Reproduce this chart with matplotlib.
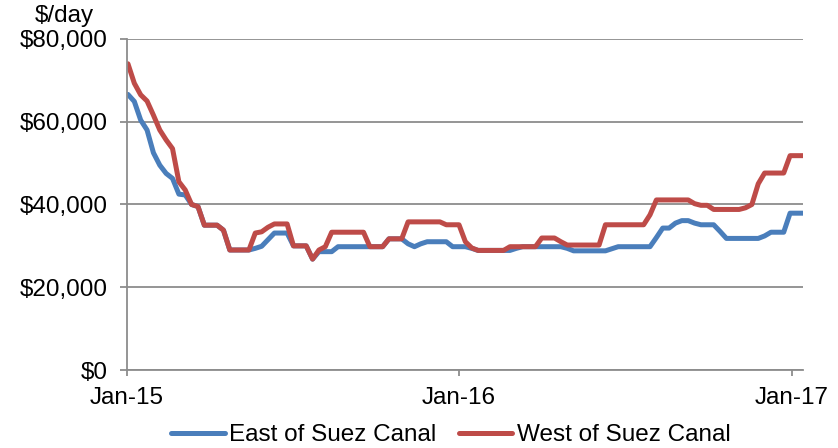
import matplotlib
matplotlib.use('Agg')
import matplotlib.pyplot as plt
import matplotlib.dates as mdates
import matplotlib.ticker as mticker
import pandas as pd

plt.rcParams['font.family'] = ['Liberation Sans', 'DejaVu Sans']

# weekly tanker earnings, $/day
weeks = pd.date_range('2015-01-02', periods=107, freq='7D')

east_suez = [
    66600, 64900, 60400, 58000, 52500, 49500, 47500, 46300, 42500, 42300,
    40000, 39500, 35000, 35000, 35000, 33800, 29000, 29000, 29000, 29000,
    29400, 29900, 31500, 33100, 33100, 33100, 30000, 30000, 30000, 26800,
    28600, 28600, 28600, 29800, 29800, 29800, 29800, 29800, 29800, 29800,
    29800, 31700, 31700, 31700, 30500, 29800, 30500, 31000, 31000, 31000,
    31000, 29800, 29800, 29800, 29400, 28900, 28900, 28900, 28900, 28900,
    28900, 29400, 29800, 29800, 29800, 29800, 29800, 29800, 29800, 29400,
    28800, 28800, 28800, 28800, 28800, 28800, 29300, 29800, 29800, 29800,
    29800, 29800, 29800, 32000, 34300, 34300, 35500, 36100, 36100, 35500,
    35100, 35100, 35100, 33500, 31800, 31800, 31800, 31800, 31800, 31800,
    32400, 33300, 33300, 33300, 37900, 37900, 37900,
]

west_suez = [
    74000, 69300, 66500, 65000, 61600, 58000, 55600, 53500, 45500, 43500,
    40000, 39500, 35000, 35000, 35000, 33800, 29000, 29000, 29000, 29000,
    33100, 33400, 34500, 35300, 35300, 35300, 30000, 30000, 30000, 26800,
    29000, 29800, 33300, 33300, 33300, 33300, 33300, 33300, 29800, 29800,
    29800, 31700, 31700, 31700, 35800, 35800, 35800, 35800, 35800, 35800,
    35100, 35100, 35100, 31000, 29500, 28900, 28900, 28900, 28900, 28900,
    29800, 29800, 29800, 29800, 29800, 31900, 31900, 31900, 31000, 30200,
    30200, 30200, 30200, 30200, 30200, 35100, 35100, 35100, 35100, 35100,
    35100, 35100, 37500, 41100, 41100, 41100, 41100, 41100, 41100, 40200,
    39800, 39800, 38800, 38800, 38800, 38800, 38800, 39200, 40000, 45000,
    47600, 47600, 47600, 47600, 51800, 51800, 51800,
]

fig = plt.figure(figsize=(8.38, 4.48), dpi=100)
ax = fig.add_axes([0.1516, 0.1741, 0.8064, 0.7389])

ax.plot(weeks, east_suez, color='#4A7EBB', lw=3.6, label='East of Suez Canal',
        solid_joinstyle='round', solid_capstyle='round')
ax.plot(weeks, west_suez, color='#BE4B48', lw=3.6, label='West of Suez Canal',
        solid_joinstyle='round', solid_capstyle='round')

ax.set_ylim(0, 80000)
ax.set_xlim(pd.Timestamp('2015-01-01'), weeks[-1])
ax.yaxis.set_major_locator(mticker.MultipleLocator(20000))
ax.yaxis.set_major_formatter(mticker.FuncFormatter(lambda v, p: f'${v:,.0f}'))
ax.xaxis.set_major_locator(mdates.YearLocator())
ax.xaxis.set_major_formatter(mdates.DateFormatter('%b-%y'))

ax.grid(axis='y', color='#8c8c8c', lw=1.3)
ax.set_axisbelow(True)
for s in ['top', 'right']:
    ax.spines[s].set_visible(False)
for s in ['left', 'bottom']:
    ax.spines[s].set_color('#8c8c8c')
    ax.spines[s].set_linewidth(1.3)
ax.tick_params(axis='y', length=5, width=1.3, color='#8c8c8c', pad=9, labelsize=17.5)
ax.tick_params(axis='x', length=4.5, width=1.3, color='#8c8c8c', pad=8, labelsize=17.5)

fig.text(0.077, 0.965, '$/day', ha='center', va='center', fontsize=17.5)

fig.legend(loc='center', bbox_to_anchor=(0.538, 0.029), ncol=2, frameon=False,
           fontsize=17.5, handlelength=2.2, handletextpad=0.2, columnspacing=0.9,
           borderaxespad=0, borderpad=0)

plt.savefig('out.png', dpi=100)
